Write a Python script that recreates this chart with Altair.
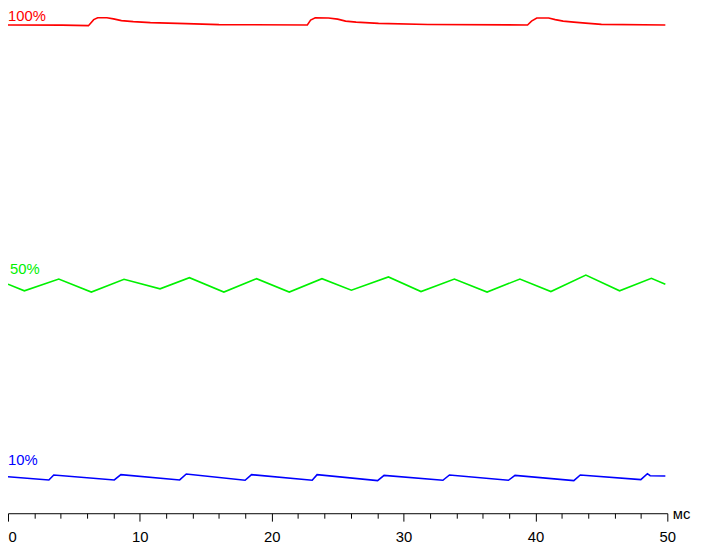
import altair as alt
import pandas as pd

# time in ms, brightness in % of the y range
red_t = [0, 4.1, 6.1, 6.5, 6.8, 7.5, 8.0, 8.6, 9.5, 10.8, 13.5, 16.0, 22.7, 22.95, 23.3, 24.3, 25.0, 25.6,
         26.4, 28.1, 31.85, 39.4, 39.7, 40.1, 41.0, 41.5, 42.1, 42.9, 43.8, 45.0, 49.85]
red_v = [97.24, 97.2, 97.1, 98.3, 98.68, 98.68, 98.45, 98.1, 97.9, 97.7, 97.5, 97.3, 97.24, 98.2, 98.68, 98.62,
         98.4, 98.0, 97.8, 97.55, 97.34, 97.24, 98.0, 98.62, 98.62, 98.3, 98.0, 97.8, 97.6, 97.35, 97.24]

green_t = [0, 1.24, 3.85, 6.32, 8.80, 11.53, 13.76, 16.37, 18.85, 21.33, 23.81, 26.04, 28.85, 31.32, 33.85, 36.33,
           38.82, 41.17, 43.82, 46.38, 48.79, 49.85]
green_v = [45.61, 44.29, 46.65, 44.04, 46.59, 44.69, 46.91, 44.04, 46.71, 44.04, 46.71, 44.43, 47.05, 44.15, 46.65,
           44.04, 46.65, 44.15, 47.44, 44.29, 46.79, 45.61]

blue_t = [0, 3.1, 3.47, 8.06, 8.56, 13.02, 13.52, 17.98, 18.47, 23.07, 23.44, 28.03, 28.52, 32.98, 33.48, 37.95,
          38.45, 42.91, 43.40, 47.99, 48.49, 48.7, 49.85]
blue_v = [7.28, 6.63, 7.62, 6.63, 7.68, 6.63, 7.81, 6.56, 7.68, 6.56, 7.68, 6.50, 7.54, 6.56, 7.62, 6.56, 7.54,
          6.50, 7.62, 6.69, 7.87, 7.48, 7.42]

series_names = ["100%", "50%", "10%"]
series_colors = ["#ff0000", "#00f000", "#0000ff"]
label_t = [0, 0.15, 0]
label_v = [98.1, 47.64, 9.65]

x_ticks = list(range(0, 51, 2))

rows = []
for name, ts, vs in zip(series_names, [red_t, green_t, blue_t], [red_v, green_v, blue_v]):
    for t, v in zip(ts, vs):
        rows.append({"series": name, "t": t, "v": v})
df = pd.DataFrame(rows)
lab = pd.DataFrame({"series": series_names, "t": label_t, "v": label_v})

color = alt.Color("series:N", scale=alt.Scale(domain=series_names, range=series_colors), legend=None)

x = alt.X("t:Q", scale=alt.Scale(domain=[0, 50], nice=False),
          axis=alt.Axis(values=x_ticks, tickCount=40, grid=False, domainColor="black", tickColor="black",
                        tickSize={"condition": {"test": "datum.value % 10 === 0", "value": 8}, "value": 5},
                        labelExpr="datum.value % 10 === 0 ? datum.label : ''",
                        labelAlign={"expr": "datum.value === 0 ? 'left' : 'center'"},
                        labelFont="Liberation Sans", labelFontSize=15, labelColor="black",
                        labelPadding=9, labelOverlap=False,
                        title="мс", titleFont="Liberation Sans", titleFontSize=15, titleFontWeight="normal",
                        titleColor="black", titleX=681, titleY=5, titleAlign="center",
                        titleBaseline="alphabetic", titleAnchor="start"))
y = alt.Y("v:Q", scale=alt.Scale(domain=[0, 100], nice=False), axis=None)

lines = alt.Chart(df).mark_line(strokeWidth=1.6, interpolate="linear").encode(
    x=x, y=y, color=color, detail="series:N")

texts = alt.Chart(lab).mark_text(align="left", baseline="alphabetic", font="Liberation Sans", fontSize=15).encode(
    x=alt.X("t:Q"), y=alt.Y("v:Q"), text="series:N", color=color)

chart = alt.layer(lines, texts).properties(
    width=667, height=508,
    autosize=alt.AutoSizeParams(type="none"),
    padding={"left": 0, "top": 0, "right": 28, "bottom": 28},
).configure_view(stroke=None)

chart.save("out.html", embed_options={"renderer": "svg", "actions": False})
